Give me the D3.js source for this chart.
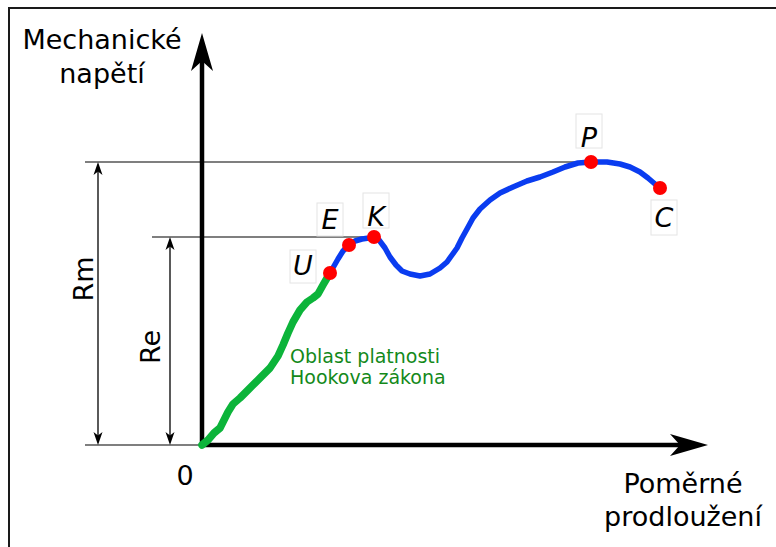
<!DOCTYPE html>
<html><head><meta charset="utf-8">
<script src="https://cdn.jsdelivr.net/npm/d3@7"></script>
<style>html,body{margin:0;padding:0;background:#fff;overflow:hidden}svg{display:block}</style>
</head><body>
<script>
// ---- data (strain, stress in arbitrary units) ----
const strain = [0,0.6,1.2,1.8,2.2,2.6,3.1,3.8,4.6,5.3,6.0,6.8,7.6,8.1,8.6,9.1,9.8,10.5,11.1,11.6,12.1,12.8,
  13.2,13.6,14.1,14.7,15.3,16.0,16.7,17.2,17.7,18.3,18.8,19.4,20.0,20.8,21.8,22.8,23.8,24.5,25.0,25.5,26.0,26.5,
  27.1,27.8,28.8,29.8,31.1,32.5,33.8,35.1,36.3,37.6,38.9,40.5,41.8,42.8,43.8,44.6,45.3,45.8];
const stress = [0,0.5,1.2,1.7,2.5,3.3,4.1,4.7,5.5,6.2,6.9,7.7,8.9,10.0,11.2,12.3,13.5,14.3,14.7,15.1,16.0,17.2,
  17.9,18.6,19.4,20.0,20.4,20.6,20.7,20.8,20.5,19.7,18.8,18.0,17.4,17.1,16.9,17.1,17.7,18.3,19.0,19.7,20.7,21.6,
  22.7,23.6,24.5,25.2,25.8,26.4,26.8,27.3,27.8,28.2,28.3,28.3,28.1,27.8,27.3,26.7,26.1,25.7];
const hookeCount = 22; // points from origin up to U
const pointLabels = ["U","E","K","P","C"];
const pointStrain = [12.8,14.7,17.2,38.9,45.8];
const pointStress = [17.2,20.0,20.8,28.3,25.7];
const Rm = 28.3, Re = 20.8;
const yTitle = ["Mechanické","napětí"];
const xTitle = ["Poměrné","prodloužení"];
const originLabel = "0";
const hookeText = ["Oblast platnosti","Hookova zákona"];

// ---- layout ----
const W = 776, H = 547;
const x = d3.scaleLinear().domain([0,50]).range([202,702]);
const y = d3.scaleLinear().domain([0,40]).range([445,45]);
const svg = d3.select("body").append("svg").attr("width",W).attr("height",H);
const font = "'DejaVu Sans', sans-serif";

svg.append("rect").attr("x",9).attr("y",8).attr("width",900).attr("height",700)
  .attr("fill","none").attr("stroke","#1a1a1a").attr("stroke-width",2);

// dimension lines
const dim = svg.append("g").attr("stroke","#555").attr("stroke-width",1.3);
dim.append("line").attr("x1",85).attr("x2",x(0)).attr("y1",y(0)).attr("y2",y(0));
dim.append("line").attr("x1",85).attr("x2",x(pointStrain[3])).attr("y1",y(Rm)).attr("y2",y(Rm));
dim.append("line").attr("x1",152).attr("x2",x(pointStrain[2])).attr("y1",y(Re)).attr("y2",y(Re));

function smallArrow(g, ax, y1, y2){
  g.append("line").attr("x1",ax).attr("x2",ax).attr("y1",y1+4).attr("y2",y2-4)
    .attr("stroke","#000").attr("stroke-width",1.3);
  const ah = (tipY, dir) => `M${ax},${tipY} L${ax+4.5},${tipY+dir*13} L${ax},${tipY+dir*9.5} L${ax-4.5},${tipY+dir*13}Z`;
  g.append("path").attr("d",ah(y1,1)).attr("fill","#000");
  g.append("path").attr("d",ah(y2,-1)).attr("fill","#000");
}
const dg = svg.append("g");
smallArrow(dg, 98, y(Rm), y(0));
smallArrow(dg, 170, y(Re), y(0));

svg.append("text").attr("transform",`translate(93,279) rotate(-90)`).attr("text-anchor","middle")
  .attr("font-family",font).attr("font-size",27).attr("fill","#000").text("Rm");
svg.append("text").attr("transform",`translate(160,347) rotate(-90)`).attr("text-anchor","middle")
  .attr("font-family",font).attr("font-size",27).attr("fill","#000").text("Re");

// axes
const ax = svg.append("g");
const yTip = 33, xTip = 708;
ax.append("line").attr("x1",x(0)).attr("x2",x(0)).attr("y1",y(0)+2).attr("y2",yTip+25)
  .attr("stroke","#000").attr("stroke-width",4.5);
ax.append("line").attr("x1",x(0)-2).attr("x2",xTip-25).attr("y1",y(0)).attr("y2",y(0))
  .attr("stroke","#000").attr("stroke-width",4.5);
ax.append("path").attr("fill","#000")
  .attr("d",`M${x(0)},${yTip} L${x(0)+11},${yTip+38} L${x(0)},${yTip+28} L${x(0)-11},${yTip+38}Z`);
ax.append("path").attr("fill","#000")
  .attr("d",`M${xTip},${y(0)} L${xTip-38},${y(0)-11} L${xTip-28},${y(0)} L${xTip-38},${y(0)+11}Z`);

// curve
const pts = strain.map((s,i)=>[s,stress[i]]);
const line = d3.line().x(d=>x(d[0])).y(d=>y(d[1])).curve(d3.curveLinear);
svg.append("path").attr("d",line(pts)).attr("fill","none").attr("stroke","#0a3cf0")
  .attr("stroke-width",5.5).attr("stroke-linejoin","round").attr("stroke-linecap","round");
svg.append("path").attr("d",line(pts.slice(0,hookeCount))).attr("fill","none").attr("stroke","#0cb43a")
  .attr("stroke-width",7.5).attr("stroke-linejoin","round").attr("stroke-linecap","round");

// labels for points
const labelPos = {U:[-27,2,-25,8], E:[-19,-16,-26,7], K:[2,-11,-33,2], P:[-2,-15,-33,1], C:[4,39,-27,8]};
pointLabels.forEach((lab,i)=>{
  const px = x(pointStrain[i]), py = y(pointStress[i]);
  const [dx,dy,bt,bb] = labelPos[lab];
  const cx = px+dx, by = py+dy;
  svg.append("rect").attr("x",cx-13).attr("y",by+bt).attr("width",26).attr("height",bb-bt)
    .attr("fill","#fff").attr("stroke","#e4e4e4").attr("stroke-width",1);
  svg.append("text").attr("x",cx).attr("y",by).attr("text-anchor","middle")
    .attr("font-family",font).attr("font-style","italic").attr("font-size",27).attr("fill","#000").text(lab);
});
pointLabels.forEach((lab,i)=>{
  svg.append("circle").attr("cx",x(pointStrain[i])).attr("cy",y(pointStress[i])).attr("r",7).attr("fill","#f00");
});

// texts
const t1 = svg.append("text").attr("font-family",font).attr("font-size",27).attr("text-anchor","middle").attr("fill","#000");
yTitle.forEach((s,i)=>t1.append("tspan").attr("x",102).attr("y",49+i*34).text(s));
const t2 = svg.append("text").attr("font-family",font).attr("font-size",27).attr("text-anchor","middle").attr("fill","#000");
xTitle.forEach((s,i)=>t2.append("tspan").attr("x",683).attr("y",493+i*33).text(s));
svg.append("text").attr("x",185).attr("y",485).attr("font-family",font).attr("font-size",27)
  .attr("text-anchor","middle").attr("fill","#000").text(originLabel);
const t3 = svg.append("text").attr("font-family",font).attr("font-size",19).attr("fill","#13891a");
hookeText.forEach((s,i)=>t3.append("tspan").attr("x",290).attr("y",363+i*20.5).text(s));
</script>
</body></html>
